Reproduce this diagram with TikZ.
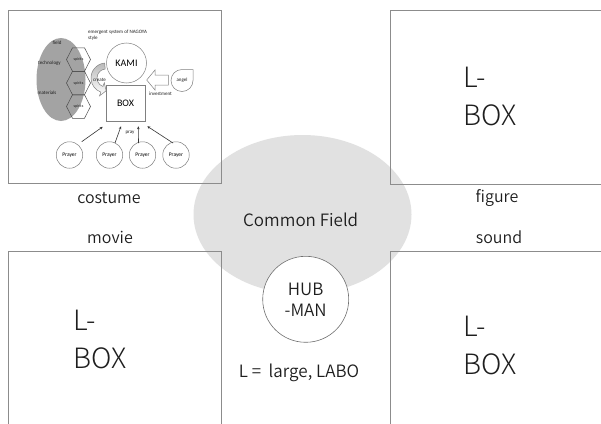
\documentclass[tikz,border=0pt]{standalone}
\usepackage{fontspec}
\setmainfont{Noto Sans CJK JP DemiLight}
\newfontfamily\thinfont{Noto Sans CJK JP Light}
\newfontfamily\insetfont{Carlito}
\usetikzlibrary{shapes.geometric,arrows.meta}

\definecolor{framegray}{HTML}{8C8C8C}
\definecolor{fieldgray}{HTML}{E1E1E1}
\definecolor{inkgray}{HTML}{1E1E1E}
\definecolor{zonegray}{HTML}{A3A3A3}
\definecolor{sketchline}{HTML}{808080}

\tikzset{
  frame/.style={draw=framegray, line width=0.9pt},
  label/.style={font=\fontsize{16}{20}\selectfont, text=inkgray, inner sep=0pt},
  bigtext/.style={font=\fontsize{17}{21}\selectfont, text=inkgray, inner sep=0pt, align=center},
  lbox/.style={font=\thinfont\fontsize{28}{38}\selectfont, text=inkgray, inner sep=0pt, align=left, anchor=west},
  tiny/.style={font=\insetfont\fontsize{5}{6}\selectfont, text=inkgray, inner sep=0pt},
  tinier/.style={font=\insetfont\fontsize{4}{5}\selectfont, text=inkgray, inner sep=0pt},
  sketchnode/.style={draw=sketchline, line width=0.5pt, fill=white, inner sep=0pt},
  prayer/.style={sketchnode, circle, minimum size=26.5pt, font=\insetfont\fontsize{5.5}{6}\selectfont},
  pray/.style={draw=inkgray!90, line width=0.6pt, -{Stealth[length=3pt,width=2.6pt]}},
}

\begin{document}
\begin{tikzpicture}[x=1pt,y=1pt]
\useasboundingbox (0,0) rectangle (601,-423);
\fill[white] (0,0) rectangle (601,-423);

% the shared field behind everything
\node[ellipse, fill=fieldgray, minimum width=218pt, minimum height=159pt, inner sep=0pt] (field) at (302.5,-214.5) {};

% four L-BOX frames (the outer ones run off the page)
\draw[frame] (8,-10) rectangle (221.7,-183.3);
\draw[frame] (390.7,-10) rectangle (612,-184);
\draw[frame] (8,-430) -- (8,-251.5) -- (221.7,-251.5) -- (221.7,-430);
\draw[frame] (390.7,-430) -- (390.7,-251.5) -- (612,-251.5);

% central hub
\node[circle, draw=framegray!80!black, line width=0.6pt, fill=white, minimum width=86pt, inner sep=0pt] (hub) at (305.7,-299.3) {};
\node[bigtext] (hubtext) at (305.7,-299.5) {HUB\\-MAN};
\node[bigtext] (common) at (300.7,-220) {Common Field};
\node[bigtext] (legend) at (299,-373) {L =\ \ large, LABO};

% labels between the frames
\node[label] (costume) at (109,-198) {costume};
\node[label] (movie) at (110,-237) {movie};
\node[label] (figure) at (497,-198) {figure};
\node[label] (sound) at (499,-237) {sound};

% L-BOX captions
\node[lbox] (tr) at (463,-96) {L-\\BOX};
\node[lbox] (bl) at (73,-339.5) {L-\\BOX};
\node[lbox] (br) at (463,-345.5) {L-\\BOX};

% ---- emergent system sketch in the top-left frame ----
\node[ellipse, fill=zonegray, minimum width=49pt, minimum height=83pt, inner sep=0pt] (zone) at (61,-79.5) {};
\node[tiny, anchor=west] (title1) at (88,-32) {emergent system of NAGOYA};
\node[tiny, anchor=west] (title2) at (88,-38.5) {style};
\node[tiny] (zfield) at (57,-43) {field};
\node[tiny] (ztech) at (49.5,-63) {technology};
\node[tiny] (zmat) at (47,-93) {materials};

% spirits hexagons
\foreach \n/\yy in {sp1/-59.5, sp2/-83, sp3/-106.5}{
  \node[tinier] (\n) at (78.5,\yy) {spirits};
  \draw[draw=inkgray!80, line width=0.5pt] ([xshift=-12pt]\n.center) -- ++(6,11.75) -- ++(12,0) -- ++(6,-11.75) -- ++(-6,-11.75) -- ++(-12,0) -- cycle;
}

% KAMI and BOX
\node[sketchnode, circle, minimum size=40pt, font=\insetfont\fontsize{10}{12}\selectfont] (kami) at (126.5,-63) {KAMI};
\node[sketchnode, minimum width=39pt, minimum height=36pt, font=\insetfont\fontsize{10}{12}\selectfont] (box) at (125.5,-103) {BOX};

% curved "create" arrow from KAMI down to BOX
\shade[top color=zonegray!75, bottom color=white, draw=sketchline, line width=0.5pt]
  (104.69,-63.06) arc[start angle=95, end angle=250, radius=15]
  -- (99.50,-95.86) -- (106.13,-90.82) -- (104.29,-82.70) -- (102.92,-86.46)
  arc[start angle=250, end angle=95, radius=9] -- cycle;
\node[tiny] (create) at (99.5,-80) {create};

% angel and investment arrow
\draw[draw=sketchline, line width=0.5pt, fill=white] (193,-80.5) -- (193,-69.5) -- (182,-69.5) arc[start angle=90, end angle=360, radius=11] -- cycle;
\node[tiny] (angel) at (182,-80.5) {angel};
\draw[draw=sketchline, line width=0.5pt, fill=white] (146.7,-80) -- (155,-70) -- (155,-75) -- (168.3,-75) -- (168.3,-85) -- (155,-85) -- (155,-90) -- cycle;
\node[tiny] (invest) at (160.5,-94) {investment};

% prayers
\node[prayer] (p1) at (69.5,-155) {Prayer};
\node[prayer] (p2) at (109.5,-155) {Prayer};
\node[prayer] (p3) at (142.5,-155) {Prayer};
\node[prayer] (p4) at (176,-155) {Prayer};
\draw[pray] ([shift={(12.2,13.3)}]p1.center) -- ([shift={(-3,-5.5)}]box.south west);
\draw[pray] ([shift={(5.5,12)}]p2.center) -- ([shift={(-4.5,-5)}]box.south);
\draw[pray] ([shift={(-4,12)}]p3.center) -- ([shift={(12.8,-5)}]box.south);
\draw[pray] ([shift={(-3,12)}]p4.center) -- ([shift={(2,-5)}]box.south east);
\node[tiny] (praylbl) at (130,-133) {pray};
\end{tikzpicture}
\end{document}
